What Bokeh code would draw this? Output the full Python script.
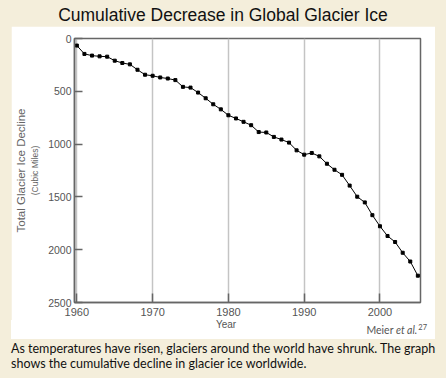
from bokeh.plotting import figure
from bokeh.models import Range1d, FixedTicker, Div, LinearAxis
from bokeh.layouts import column
from bokeh.embed import file_html
from bokeh.resources import INLINE

# ---- data ----
years = list(range(1960, 2006))
decline = [67, 146, 162, 169, 172, 210, 232, 245, 296, 343,
           353, 369, 379, 394, 458, 465, 512, 566, 623, 671,
           727, 757, 789, 821, 886, 890, 932, 957, 986, 1059,
           1100, 1084, 1116, 1186, 1243, 1291, 1393, 1498, 1552, 1673,
           1778, 1870, 1927, 2029, 2112, 2246]
x_ticks = [1960, 1970, 1980, 1990, 2000]
y_ticks = [0, 500, 1000, 1500, 2000, 2500]
title_text = "Cumulative Decrease in Global Glacier Ice"
y_title = "Total Glacier Ice Decline"
y_units = "(Cubic Miles)"
x_title = "Year"
source_name = "Meier"
source_etal = "et al."
source_ref = "27"
caption_lines = ["As temperatures have risen, glaciers around the world have shrunk. The graph",
                 "shows the cumulative decline in glacier ice worldwide."]

BG = "#F4EEDB"
AX = "#666666"
TXT = "#555555"
XMIN, XMAX = 1959.69, 2005.35
YBOT, YTOP = 2500, 0

p = figure(width=424, height=294,
           x_range=Range1d(XMIN, XMAX), y_range=Range1d(YBOT, YTOP),
           output_backend="svg", toolbar_location=None,
           min_border_left=59, min_border_right=15,
           min_border_top=12, min_border_bottom=18,
           border_fill_color="white", background_fill_color="white",
           outline_line_color=AX, outline_line_width=1.5,
           margin=(0, 11, 0, 11))

p.line(years, decline, line_color="black", line_width=1)
p.scatter(years, decline, marker="square", size=3, color="black")

p.xaxis.ticker = FixedTicker(ticks=x_ticks)
p.yaxis.ticker = FixedTicker(ticks=y_ticks)
p.xgrid.ticker = FixedTicker(ticks=x_ticks)
p.ygrid.visible = False
p.xgrid.grid_line_color = "#c4c4c4"
p.xgrid.grid_line_width = 1.5

for ax in (p.xaxis[0], p.yaxis[0]):
    ax.axis_line_color = AX
    ax.axis_line_width = 1.5
    ax.major_tick_line_color = AX
    ax.major_tick_line_width = 1.5
    ax.major_tick_out = 0
    ax.minor_tick_line_color = None
    ax.minor_tick_out = 0
    ax.major_label_text_font = "Liberation Sans"
    ax.major_label_text_color = TXT

p.xaxis.major_tick_in = 9
p.yaxis.major_tick_in = 8
p.xaxis.major_label_text_font_size = "11px"
p.yaxis.major_label_text_font_size = "10.5px"
p.xaxis.major_label_standoff = 5
p.yaxis.major_label_standoff = 3


def title_axis(text, size, standoff):
    return LinearAxis(ticker=FixedTicker(ticks=[]), axis_label=text,
                      axis_label_text_font="Liberation Sans",
                      axis_label_text_font_size=size,
                      axis_label_text_font_style="normal",
                      axis_label_text_color="#666666",
                      axis_label_standoff=standoff,
                      axis_line_color=None, major_tick_line_color=None,
                      minor_tick_line_color=None, major_tick_in=0, major_tick_out=0,
                      minor_tick_in=0, minor_tick_out=0, major_label_standoff=0,
                      major_label_text_font_size="0px")


p.add_layout(title_axis(y_units, "8.5px", 6), "left")
p.add_layout(title_axis(y_title, "11.5px", 0), "left")

title_div = Div(text=('<div style="width:446px;height:26px;padding-top:4.5px;box-sizing:border-box;'
                      'text-align:center;font-family:\'Liberation Sans\';font-size:17.5px;'
                      'line-height:20px;color:#111;white-space:nowrap">' + title_text + '</div>'),
                width=446, height=26, margin=(0, 0, 0, 0))

mid_div = Div(text=('<div style="position:relative;width:424px;height:19px;background:#ffffff;">'
                    '<div style="position:absolute;left:0;top:-0.5px;width:430px;text-align:center;'
                    'font-family:\'Liberation Sans\';font-size:10px;line-height:10px;color:#555">'
                    + x_title + '</div>'
                    '<div style="position:absolute;right:8px;top:4.5px;font-family:Lato;font-size:10.5px;'
                    'line-height:11px;color:#555;white-space:nowrap">'
                    + source_name + ' <i>' + source_etal + '</i>'
                    '<span style="position:relative;top:-4px;font-size:7.5px;margin-left:1px">'
                    + source_ref + '</span></div></div>'),
              width=424, height=19, margin=(0, 11, 0, 11))

cap_div = Div(text=('<div style="padding:2px 0 0 11px;font-family:Lato;font-size:12.5px;'
                    'line-height:15px;color:#111;white-space:nowrap">'
                    + "<br>".join(caption_lines) + '</div>'),
              width=446, height=39, margin=(0, 0, 0, 0))

layout = column(title_div, p, mid_div, cap_div, spacing=0,
                styles={"background-color": BG}, margin=(0, 0, 0, 0))

open("out.html", "w").write(file_html(layout, INLINE))
